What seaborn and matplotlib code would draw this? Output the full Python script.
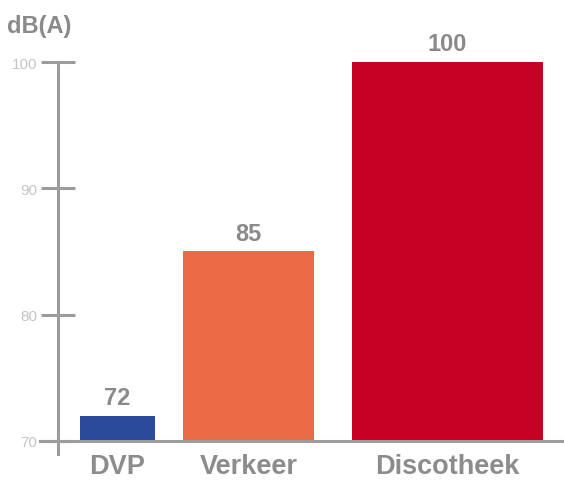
import numpy as np
import pandas as pd
import seaborn as sns
import matplotlib
matplotlib.use("Agg")
import matplotlib.pyplot as plt

# data
categories = ["DVP", "Verkeer", "Discotheek"]
levels = [72, 85, 100]
bar_colors = ["#2b4a9c", "#e96a45", "#c70025"]
y_ticks = [70, 80, 90, 100]
unit_label = "dB(A)"

# layout (category units): uneven widths and a shifted middle bar as in the original
bar_widths = [0.455, 0.794, 1.158]
bar_shift = [0.0, -0.206, 0.0]
base = 70

sns.set_style("white")
plt.rcParams["font.family"] = ["Liberation Sans", "DejaVu Sans"]

fig = plt.figure(figsize=(5.64, 4.81), dpi=100)
ax = fig.add_axes([0, 0, 1, 1])

df = pd.DataFrame({"cat": categories, "level": levels})
sns.barplot(data=df, x="cat", y="level", hue="cat", order=categories,
            palette=bar_colors, legend=False, ax=ax, saturation=1)

# bars start at the baseline, custom widths
for i, p in enumerate(ax.patches):
    h = p.get_height()
    c = i + bar_shift[i]
    p.set_x(c - bar_widths[i] / 2)
    p.set_width(bar_widths[i])
    p.set_y(base)
    p.set_height(h - base)
    p.set_edgecolor("none")

for cont in ax.containers:
    ax.bar_label(cont, fmt="%d", padding=5, fontsize=17, fontweight="bold",
                 color="#8a8a8a")

ax.set_xlim(-0.712, 2.706)
ax.set_ylim(66.91, 104.99)

grey = "#9c9c9c"
for s in ["top", "right"]:
    ax.spines[s].set_visible(False)
ax.spines["left"].set_position(("data", -0.3606))
ax.spines["left"].set_bounds(68.97, 100)
ax.spines["left"].set_color(grey)
ax.spines["left"].set_linewidth(2.2)
ax.spines["bottom"].set_position(("data", base))
ax.spines["bottom"].set_bounds(-0.4697, 2.70)
ax.spines["bottom"].set_color(grey)
ax.spines["bottom"].set_linewidth(2.2)

ax.set_yticks(y_ticks)
ax.set_yticklabels([str(t) for t in y_ticks])
ax.tick_params(axis="y", direction="inout", length=24, width=2.2, color=grey,
               labelsize=11, labelcolor="#c4c4c4", pad=3, left=True)

ax.set_xticks([i + bar_shift[i] for i in range(len(categories))])
ax.set_xticklabels(categories, fontsize=19.5, fontweight="bold", color="#8c8c8c")
ax.tick_params(axis="x", length=0, pad=9)
ax.set_xlabel("")
ax.set_ylabel("")

fig.text(7 / 564, 1 - 26 / 481, unit_label, fontsize=17, fontweight="bold",
         color="#8a8a8a", ha="left", va="center")

fig.savefig("out.png", dpi=100)
